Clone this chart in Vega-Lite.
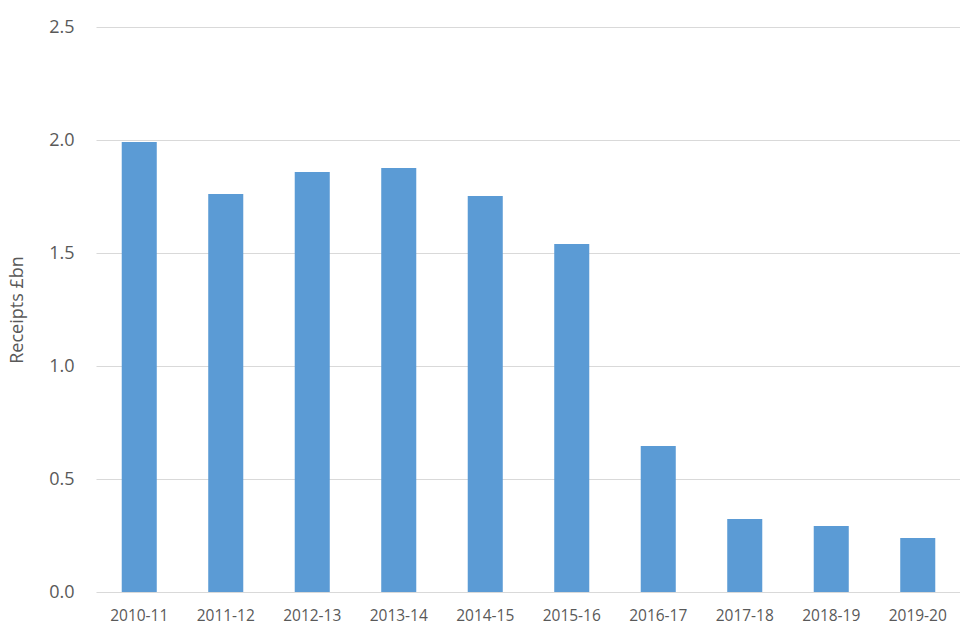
{
  "$schema": "https://vega.github.io/schema/vega-lite/v6.json",
  "width": 865,
  "height": 565,
  "autosize": {"type": "none"},
  "padding": {"left": 96, "top": 27, "right": 0, "bottom": 48},
  "background": "white",
  "data": {
    "values": [
      {"year": "2010-11", "receipts": 1.991},
      {"year": "2011-12", "receipts": 1.761},
      {"year": "2012-13", "receipts": 1.858},
      {"year": "2013-14", "receipts": 1.876},
      {"year": "2014-15", "receipts": 1.752},
      {"year": "2015-16", "receipts": 1.540},
      {"year": "2016-17", "receipts": 0.646},
      {"year": "2017-18", "receipts": 0.323},
      {"year": "2018-19", "receipts": 0.292},
      {"year": "2019-20", "receipts": 0.239}
    ]
  },
  "config": {
    "view": {"stroke": null},
    "font": "Open Sans"
  },
  "mark": {"type": "bar", "color": "#5b9bd5"},
  "encoding": {
    "x": {
      "field": "year",
      "type": "nominal",
      "sort": null,
      "scale": {"paddingInner": 0.595, "paddingOuter": 0.2975},
      "axis": {
        "title": null,
        "labelAngle": 0,
        "labelFontSize": 15.5,
        "labelColor": "#595959",
        "labelPadding": 16,
        "ticks": false,
        "domain": false
      }
    },
    "y": {
      "field": "receipts",
      "type": "quantitative",
      "scale": {"domain": [0, 2.5], "nice": false},
      "axis": {
        "values": [0, 0.5, 1, 1.5, 2, 2.5],
        "format": ".1f",
        "title": "Receipts £bn",
        "titleFontSize": 18,
        "titleFontWeight": "normal",
        "titleColor": "#595959",
        "titlePadding": 22,
        "labelFontSize": 18,
        "labelColor": "#595959",
        "labelPadding": 22,
        "ticks": false,
        "domain": false,
        "gridColor": "#d9d9d9",
        "gridWidth": 1
      }
    }
  }
}
